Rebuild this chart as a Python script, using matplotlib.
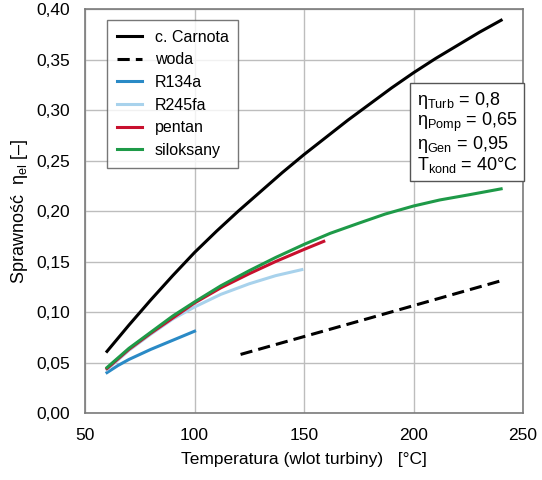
import matplotlib
matplotlib.use("Agg")
import matplotlib.pyplot as plt
from matplotlib.ticker import FuncFormatter

plt.rcParams['font.family'] = ['Liberation Sans Narrow', 'Liberation Sans', 'DejaVu Sans']
plt.rcParams['mathtext.fontset'] = 'custom'
plt.rcParams['mathtext.rm'] = 'Liberation Sans'
plt.rcParams['mathtext.it'] = 'Liberation Serif:italic'

# dane
t_carnot = [60, 70, 80, 90, 100, 110, 120, 130, 140, 150, 160, 170, 180, 190, 200, 210, 220, 230, 240]
eta_carnot = [0.061, 0.087, 0.112, 0.136, 0.159, 0.180, 0.200, 0.219, 0.238, 0.256, 0.273,
              0.290, 0.306, 0.322, 0.337, 0.351, 0.364, 0.377, 0.389]

t_woda = [121, 180, 240]
eta_woda = [0.058, 0.094, 0.131]

t_r134a = [60, 65, 70, 80, 90, 100]
eta_r134a = [0.040, 0.047, 0.053, 0.063, 0.072, 0.081]

t_r245fa = [60, 70, 80, 90, 100, 112, 125, 137, 149]
eta_r245fa = [0.043, 0.062, 0.078, 0.093, 0.105, 0.1175, 0.128, 0.136, 0.142]

t_pentan = [60, 70, 80, 90, 100, 112, 125, 137, 150, 159]
eta_pentan = [0.044, 0.063, 0.079, 0.094, 0.109, 0.124, 0.138, 0.150, 0.162, 0.170]

t_silok = [60, 70, 80, 90, 100, 112, 125, 137, 150, 162, 175, 187, 200, 212, 225, 240]
eta_silok = [0.045, 0.064, 0.080, 0.096, 0.110, 0.126, 0.141, 0.154, 0.167, 0.178,
             0.188, 0.197, 0.205, 0.211, 0.216, 0.222]

fig = plt.figure(figsize=(5.42, 4.8), dpi=100)
ax = fig.add_axes([0.157, 0.1396, 0.808, 0.8414])

lw = 2.2
ax.plot(t_carnot, eta_carnot, color='black', lw=lw, label='c. Carnota')
ax.plot(t_woda, eta_woda, color='black', lw=lw, ls=(0, (4, 2)), label='woda')
ax.plot(t_r134a, eta_r134a, color='#2a8ac6', lw=lw, label='R134a')
ax.plot(t_r245fa, eta_r245fa, color='#a8d2ec', lw=lw, label='R245fa')
ax.plot(t_pentan, eta_pentan, color='#c8102e', lw=lw, label='pentan')
ax.plot(t_silok, eta_silok, color='#1e9a48', lw=lw, label='siloksany')

ax.set_xlim(50, 250)
ax.set_ylim(0, 0.40)
ax.set_xticks([50, 100, 150, 200, 250])
ax.set_yticks([i * 0.05 for i in range(9)])
ax.yaxis.set_major_formatter(FuncFormatter(lambda v, p: f'{v:.2f}'.replace('.', ',')))
ax.tick_params(length=0, labelsize=12.5, colors='black', pad=11)
ax.grid(True, color='#bdbdbd', lw=1)
ax.set_axisbelow(True)
for s in ax.spines.values():
    s.set_color('#7a7a7a')
    s.set_linewidth(1.2)

ax.set_xlabel('Temperatura (wlot turbiny)   [°C]', fontsize=12.5, labelpad=6)
ax.set_ylabel(r'Sprawność  $\mathrm{\eta_{el}}$ [–]', fontsize=13, labelpad=4)

leg = ax.legend(loc='upper left', bbox_to_anchor=(0.05, 0.973), fontsize=11.5,
                frameon=True, fancybox=False, edgecolor='#555555',
                handlelength=1.6, handletextpad=0.8, labelspacing=0.48,
                borderpad=0.6, borderaxespad=0)
leg.get_frame().set_linewidth(1)

txt = ('$\\mathrm{\\eta_{Turb}}$ = 0,8\n$\\mathrm{\\eta_{Pomp}}$ = 0,65\n'
       '$\\mathrm{\\eta_{Gen}}$ = 0,95\n$\\mathrm{T_{kond}}$ = 40°C')
ax.text(0.757, 0.80, txt, transform=ax.transAxes, fontsize=13, va='top', ha='left',
        linespacing=1.0,
        bbox=dict(boxstyle='square,pad=0.35', fc='white', ec='#555555', lw=1))

fig.savefig('out.png', dpi=100)
